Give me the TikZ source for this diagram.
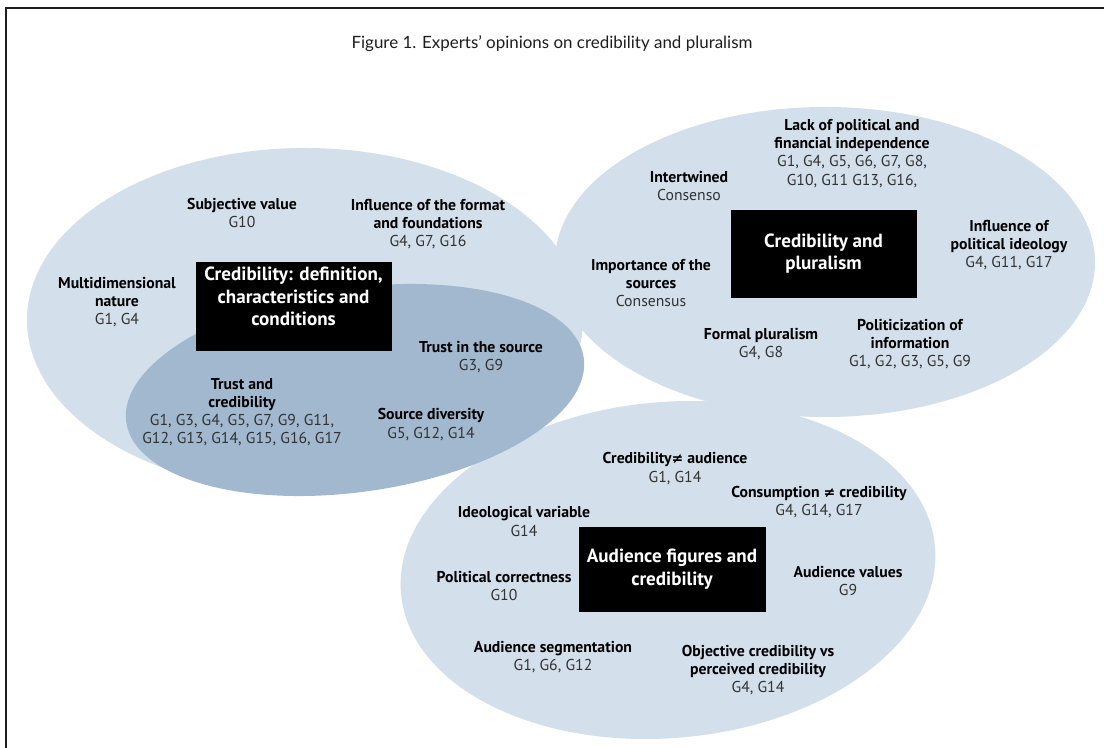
\documentclass[tikz,border=0pt]{standalone}
\usepackage{fontspec}
\setmainfont{PT Sans}
\newfontfamily\titlefont{Lato}
\newfontfamily\symf{DejaVu Sans}
\definecolor{lightfill}{RGB}{211,223,234}
\definecolor{darkfill}{RGB}{161,184,206}
\definecolor{codegray}{RGB}{50,50,50}
\definecolor{framegray}{RGB}{30,30,30}
\newcommand{\cds}[1]{{\mdseries\color{codegray}#1}}
\newcommand{\neqsym}{{\symf\fontsize{10.5}{13}\selectfont ≠}}
\begin{document}
\begin{tikzpicture}[x=0.75pt,y=-0.75pt,
  lbl/.style={align=center,inner sep=0pt,font=\fontsize{11.8}{13.6}\selectfont\bfseries},
  boxlbl/.style={align=center,inner sep=0pt,text=white,font=\fontsize{14.3}{17}\selectfont\bfseries},
  blackbox/.style={fill=black,draw=black,inner sep=0pt}]
\useasboundingbox (0,0) rectangle (1104,748);
\fill[white] (0,0) rectangle (1104,748);
% frame
\draw[framegray,line width=1.5pt] (6,748) -- (6,8) -- (1104,8);
% title
\node[font=\titlefont\fontsize{12.7}{15}\selectfont,text=framegray] (title) at (552,44) {Figure 1. Experts’ opinions on credibility and pluralism};
% ellipses
\fill[lightfill] (305,320) ellipse [x radius=278, y radius=172];
\fill[lightfill] (825,262) ellipse [x radius=270, y radius=155];
\fill[lightfill, rotate around={5:(668,570)}] (668,570) ellipse [x radius=268, y radius=168];
\fill[darkfill, rotate around={8:(355,390)}] (355,390) ellipse [x radius=231, y radius=102];
% boxes
\node[blackbox,boxlbl,minimum width=195*0.75pt,minimum height=88*0.75pt] (box1) at (293.5,306) {Credibility: definition,\\characteristics and\\conditions\rule[-14.5pt]{0pt}{0pt}};
\node[blackbox,minimum width=185*0.75pt,minimum height=87*0.75pt,boxlbl] (box2) at (823.5,253.5) {Credibility and\\pluralism};
\node[blackbox,minimum width=186*0.75pt,minimum height=84*0.75pt,boxlbl] (box3) at (672,569) {Audience figures and\\credibility};
% left ellipse labels
\node[lbl] (subj) at (242,213) {Subjective value\\\cds{G10}};
\node[lbl] (form) at (428,224) {Influence of the format\\and foundations\\\cds{G4, G7, G16}};
\node[lbl] (multi) at (117,302) {Multidimensional\\nature\\\cds{G1, G4}};
\node[lbl] (tsrc) at (481,357.5) {Trust in the source\\\cds{G3, G9}};
\node[lbl] (tcred) at (242,412) {Trust and\\credibility\\\cds{G1, G3, G4, G5, G7, G9, G11,}\\\cds{G12, G13, G14, G15, G16, G17}};
\node[lbl] (sdiv) at (431,424.5) {Source diversity\\\cds{G5, G12, G14}};
% right ellipse labels
\node[lbl] (lack) at (852,153.5) {Lack of political and\\financial independence\\\cds{G1, G4, G5, G6, G7, G8,}\\\cds{G10, G11 G13, G16,}};
\node[lbl] (inter) at (689,186) {Intertwined\\\cds{Consenso}};
\node[lbl] (ideo) at (1009,245) {Influence of\\political ideology\\\cds{G4, G11, G17}};
\node[lbl] (imp) at (651,283) {Importance of the\\sources\\\cds{Consensus}};
\node[lbl] (formal) at (761,344) {Formal pluralism\\\cds{G4, G8}};
\node[lbl] (polit) at (910,344) {Politicization of\\information\\\cds{G1, G2, G3, G5, G9}};
% bottom ellipse labels
\node[lbl] (credaud) at (675,468.5) {Credibility\neqsym{} audience\\\cds{G1, G14}};
\node[lbl] (consum) at (819,502) {Consumption \neqsym{} credibility\\\cds{G4, G14, G17}};
\node[lbl] (ideov) at (524,521.5) {Ideological variable\\\cds{G14}};
\node[lbl] (pcorr) at (504,586) {Political correctness\\\cds{G10}};
\node[lbl] (avals) at (848,581) {Audience values\\\cds{G9}};
\node[lbl] (aseg) at (553,657) {Audience segmentation\\\cds{G1, G6, G12}};
\node[lbl] (objc) at (758,670) {Objective credibility vs\\perceived credibility\\\cds{G4, G14}};
\end{tikzpicture}
\end{document}
